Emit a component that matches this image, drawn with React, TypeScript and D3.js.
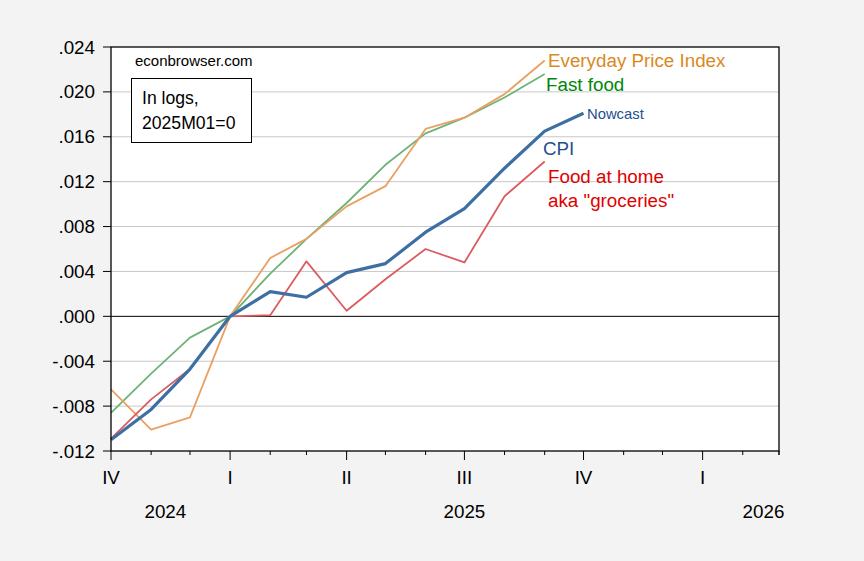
import React from 'react';
import * as d3 from 'd3';

// monthly, 2024M10 .. 2025M10
const months = ['2024-10', '2024-11', '2024-12', '2025-01', '2025-02', '2025-03', '2025-04', '2025-05', '2025-06', '2025-07', '2025-08', '2025-09', '2025-10'];

const cpi = [-0.0110, -0.0083, -0.0047, 0, 0.0022, 0.0017, 0.0039, 0.0047, 0.0075, 0.0096, 0.0132, 0.0165, 0.0181];
const foodAtHome = [-0.0109, -0.0074, -0.0047, 0, 0.0001, 0.0049, 0.0005, 0.0033, 0.0060, 0.0048, 0.0107, 0.0138, null];
const everyday = [-0.0065, -0.0101, -0.0090, 0, 0.0052, 0.0069, 0.0098, 0.0116, 0.0167, 0.0177, 0.0198, 0.0228, null];
const fastFood = [-0.0086, -0.0051, -0.0019, 0, 0.0038, 0.0069, 0.0101, 0.0135, 0.0163, 0.0177, 0.0195, 0.0216, null];

const yTicks = [-0.012, -0.008, -0.004, 0, 0.004, 0.008, 0.012, 0.016, 0.020, 0.024];
const quarterTicks = [
  { date: '2024-10', label: 'IV' },
  { date: '2025-01', label: 'I' },
  { date: '2025-04', label: 'II' },
  { date: '2025-07', label: 'III' },
  { date: '2025-10', label: 'IV' },
  { date: '2026-01', label: 'I' },
];
const yearLabels = [
  { date: '2024-11-12', label: '2024' },
  { date: '2025-07-01', label: '2025' },
  { date: '2026-02-17', label: '2026' },
];

const W = 864, H = 561;
const m = { left: 111, right: 779, top: 47, bottom: 451 };
const parse = d3.timeParse('%Y-%m');
const parseD = d3.timeParse('%Y-%m-%d');

const fmt = (v: number) => {
  const s = Math.abs(v).toFixed(3).replace(/^0/, '');
  return (v < 0 ? '-' : '') + s;
};

const App: React.FC = () => {
  const x = d3.scaleTime()
    .domain([parse('2024-10')!, parse('2026-03')!])
    .range([m.left, m.right]);
  const y = d3.scaleLinear().domain([-0.012, 0.024]).range([m.bottom, m.top]);

  const monthTicks = d3.timeMonth.range(parse('2024-10')!, d3.timeMonth.offset(parse('2026-03')!, 1));

  const line = d3.line<number | null>()
    .defined(d => d !== null)
    .x((_, i) => x(parse(months[i])!))
    .y(d => y(d as number));

  const series = [
    { data: fastFood, color: '#6db378', width: 1.8 },
    { data: everyday, color: '#e9a063', width: 1.8 },
    { data: foodAtHome, color: '#dc5c5e', width: 1.8 },
    { data: cpi, color: '#3d6fa3', width: 3.2 },
  ];

  const font = 'Arial, "Liberation Sans", sans-serif';
  const fs = 18.8;

  return (
    <svg width={W} height={H} style={{ position: 'absolute', left: 0, top: 0 }} fontFamily={font}>
      <rect width={W} height={H} fill="#f3f3f3" />
      <rect x={m.left} y={m.top} width={m.right - m.left} height={m.bottom - m.top} fill="#fff" />

      {/* grid */}
      {yTicks.filter(t => t !== 0 && t !== 0.024 && t !== -0.012).map(t => (
        <line key={t} x1={m.left} x2={m.right} y1={y(t)} y2={y(t)} stroke="#c8c8c8" strokeWidth={1} />
      ))}
      <line x1={m.left} x2={m.right} y1={y(0)} y2={y(0)} stroke="#000" strokeWidth={1} />

      {/* series */}
      {series.map((s, i) => (
        <path key={i} d={line(s.data) || ''} fill="none" stroke={s.color} strokeWidth={s.width} strokeLinejoin="round" />
      ))}

      {/* frame */}
      <rect x={m.left} y={m.top} width={m.right - m.left} height={m.bottom - m.top} fill="none" stroke="#000" strokeWidth={1.3} />

      {/* y axis */}
      {yTicks.map(t => (
        <g key={t}>
          <line x1={m.left - 8} x2={m.left} y1={y(t)} y2={y(t)} stroke="#000" strokeWidth={1} />
          <text x={95} y={y(t) + 6.5} textAnchor="end" fontSize={fs} fill="#000">{fmt(t)}</text>
        </g>
      ))}

      {/* x axis */}
      {monthTicks.map((d, i) => {
        const major = d.getMonth() % 3 === 0;
        return <line key={i} x1={x(d)} x2={x(d)} y1={m.bottom} y2={m.bottom + (major ? 9 : 4)} stroke="#000" strokeWidth={1} />;
      })}
      <line x1={m.right} x2={m.right} y1={m.bottom} y2={m.bottom + 4} stroke="#000" strokeWidth={1} />
      {quarterTicks.map((q, i) => (
        <text key={i} x={x(parse(q.date)!)} y={484} textAnchor="middle" fontSize={fs} fill="#000">{q.label}</text>
      ))}
      {yearLabels.map((yl, i) => (
        <text key={i} x={x(parseD(yl.date)!)} y={518} textAnchor="middle" fontSize={fs} fill="#000">{yl.label}</text>
      ))}

      {/* annotations */}
      <text x={135} y={66} fontSize={15} fill="#000">econbrowser.com</text>
      <rect x={131.5} y={78.5} width={120} height={64} fill="#fff" stroke="#000" strokeWidth={1} />
      <text x={142} y={104} fontSize={17.6} fill="#000">In logs,</text>
      <text x={142} y={129} fontSize={17.6} fill="#000">2025M01=0</text>

      <text x={548} y={67} fontSize={18.8} fill="#d98a1e">Everyday Price Index</text>
      <text x={546} y={91} fontSize={18.8} fill="#00860a">Fast food</text>
      <text x={587} y={119} fontSize={14.8} fill="#1f4f8f">Nowcast</text>
      <text x={543} y={155} fontSize={18.8} fill="#1f4f8f">CPI</text>
      <text x={548} y={183} fontSize={18.8} fill="#e00000">Food at home</text>
      <text x={548} y={207} fontSize={18.8} fill="#e00000">aka "groceries"</text>
    </svg>
  );
};

export default App;
